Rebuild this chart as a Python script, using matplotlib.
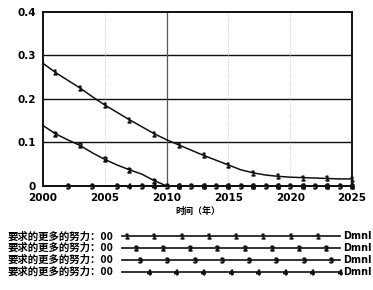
import matplotlib
matplotlib.use("Agg")
import matplotlib.pyplot as plt
import numpy as np

plt.rcParams["font.family"] = ["Noto Sans CJK SC", "DejaVu Sans"]

INK = "#111111"

years = list(range(2000, 2026))
series_1 = [0.282, 0.261, 0.243, 0.225, 0.205, 0.186, 0.169, 0.152, 0.136, 0.120,
            0.106, 0.094, 0.082, 0.070, 0.059, 0.048, 0.037, 0.030, 0.025, 0.022,
            0.020, 0.019, 0.018, 0.017, 0.016, 0.016]
series_2 = [0.139, 0.120, 0.106, 0.093, 0.076, 0.061, 0.048, 0.037, 0.027, 0.012,
            0.0] + [0.0] * 15
series_3 = [0.0] * 26
series_4 = [0.0] * 26

yticks = [0, 0.1, 0.2, 0.3, 0.4]
ytick_labels = ["0", "0.1", "0.2", "0.3", "0.4"]
xticks = [2000, 2005, 2010, 2015, 2020, 2025]

legend_label = "要求的更多的努力：00"
unit = "Dmnl"

fig = plt.figure(figsize=(3.73, 2.90), dpi=100)
ax = fig.add_axes([0.115, 0.359, 0.829, 0.600])

ax.set_xlim(2000, 2025)
ax.set_ylim(0, 0.4)

for y in [0.1, 0.2, 0.3]:
    ax.axhline(y, color=INK, lw=1.0, zorder=1)
ax.axvline(2010, color="#555555", lw=0.9, zorder=1)
for x in [2005, 2015, 2020]:
    ax.axvline(x, color="#bbbbbb", lw=0.6, ls=":", zorder=1)

series = [series_1, series_2, series_3, series_4]
marks = [(1, 2), (1, 2), (2, 2), (7, 2)]
for i, (vals, (start, step)) in enumerate(zip(series, marks)):
    ax.plot(years, vals, color=INK, lw=1.1, marker=f"${i + 1}$", ms=3.5,
            markevery=(start, step), zorder=3, clip_on=False)

for s in ax.spines.values():
    s.set_color(INK)
    s.set_linewidth(1.4)

ax.set_yticks(yticks)
ax.set_yticklabels(ytick_labels)
ax.set_xticks(xticks)
ax.tick_params(length=0, labelsize=7.5, pad=5)
for lab in ax.get_xticklabels() + ax.get_yticklabels():
    lab.set_fontweight("bold")
    lab.set_family("Liberation Sans Narrow")
ax.set_xlabel("时间（年）", fontsize=6.5, fontweight="bold", labelpad=3)

# legend rows below the chart
leg = fig.add_axes([0, 0, 1, 0.23])
leg.set_xlim(0, 373)
leg.set_ylim(67, 0)
leg.axis("off")
row_y = [13, 25, 37, 49]
offsets = [0.0, 0.04, 0.06, 0.1]
for i, y in enumerate(row_y):
    leg.text(8, y, legend_label, fontsize=7.5, fontweight="bold", va="center", ha="left")
    leg.plot([122, 340], [y, y], color=INK, lw=1.2)
    xs = 122 + (np.arange(8) / 8 + offsets[i]) * 218 + 5
    leg.plot(xs, [y] * 8, ls="none", marker=f"${i + 1}$", ms=3.5, color=INK)
    leg.text(343, y, unit, fontsize=7, fontweight="bold", va="center", ha="left",
             family="Liberation Sans Narrow")

fig.savefig("out.png", dpi=100)
